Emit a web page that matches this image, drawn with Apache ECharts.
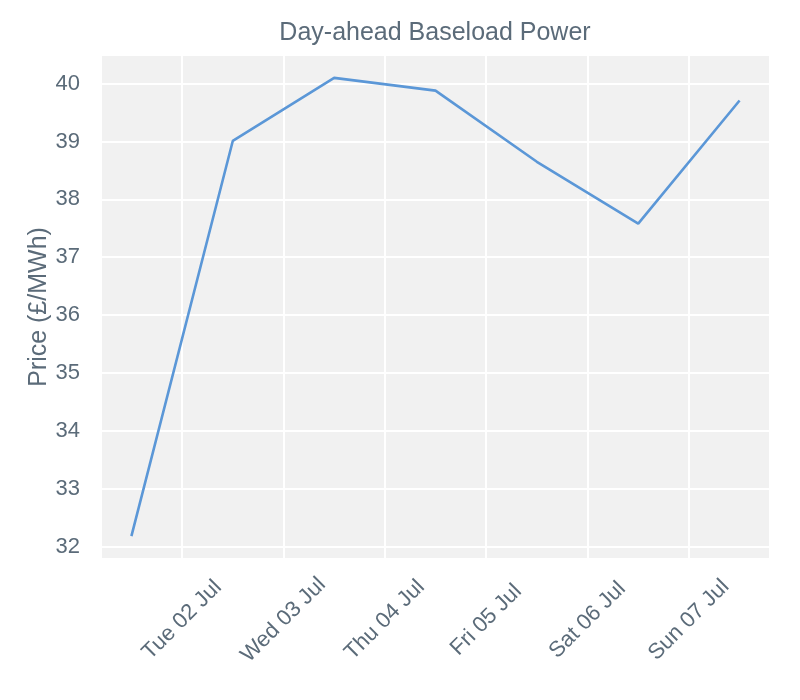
<!DOCTYPE html>
<html><head><meta charset="utf-8">
<script src="https://cdn.jsdelivr.net/npm/echarts@6/dist/echarts.min.js"></script>
<style>html,body{margin:0;padding:0;background:#fff}#c{width:800px;height:700px}</style>
</head><body><div id="c"></div>
<script>
const title = 'Day-ahead Baseload Power';
const yName = 'Price (£/MWh)';
const dates = ['2024-07-01 12:00','2024-07-02 12:00','2024-07-03 12:00','2024-07-04 12:00','2024-07-05 12:00','2024-07-06 12:00','2024-07-07 12:00'];
const prices = [32.18, 39.01, 40.10, 39.88, 38.65, 37.58, 39.71];
const tickDates = ['2024-07-02 00:00','2024-07-03 00:00','2024-07-04 00:00','2024-07-05 00:00','2024-07-06 00:00','2024-07-07 00:00'];
const tickLabels = ['Tue 02 Jul','Wed 03 Jul','Thu 04 Jul','Fri 05 Jul','Sat 06 Jul','Sun 07 Jul'];

function toDays(s){
  const [d,t] = s.split(' ');
  const [Y,M,D] = d.split('-').map(Number);
  const [h,m] = (t||'00:00').split(':').map(Number);
  return (Date.UTC(Y,M-1,D,h,m) - Date.UTC(2024,6,1))/864e5;
}
const xs = dates.map(toDays);
const labelMap = {};
tickDates.forEach((d,i)=>{ labelMap[Math.round(toDays(d)*1000)] = tickLabels[i]; });
const xr = xs[xs.length-1]-xs[0];
const xMin = xs[0]-0.05*xr, xMax = xs[xs.length-1]+0.05*xr;
const yLo = Math.min(...prices), yHi = Math.max(...prices), yr = yHi-yLo;
const yMin = yLo-0.05*yr, yMax = yHi+0.05*yr;

const txt = '#5b6b79';
const font = 'Liberation Sans, Arial, sans-serif';
const chart = echarts.init(document.getElementById('c'), null, {renderer:'canvas'});
chart.setOption({
  animation:false,
  backgroundColor:'#ffffff',
  title:{text:title, left:435, top:21, textAlign:'center', padding:0,
    textStyle:{color:txt, fontSize:25, fontWeight:'normal', fontFamily:font}},
  grid:{left:101, right:30, top:55, bottom:141, show:true, backgroundColor:'#f1f1f1', borderWidth:0, containLabel:false},
  xAxis:{type:'value', min:xMin, max:xMax, splitNumber:7,
    axisLine:{show:false}, axisTick:{show:false},
    splitLine:{show:true, lineStyle:{color:'#ffffff', width:2}},
    axisLabel:{show:true, rotate:45, align:'center', verticalAlign:'middle', margin:61,
      showMinLabel:false, showMaxLabel:false,
      color:txt, fontSize:22, fontFamily:font,
      formatter:v=>labelMap[Math.round(v*1000)]||''}},
  yAxis:{type:'value', min:yMin, max:yMax, splitNumber:9,
    name:yName, nameLocation:'middle', nameGap:49, nameMoveOverlap:false,
    nameTextStyle:{color:txt, fontSize:25, fontFamily:font},
    axisLine:{show:false}, axisTick:{show:false},
    splitLine:{show:true, lineStyle:{color:'#ffffff', width:2}},
    axisLabel:{color:txt, fontSize:22, fontFamily:font, margin:21,
      showMinLabel:false, showMaxLabel:false,
      formatter:v=>{const r=Math.round(v*1000)/1000; return Number.isInteger(r)?String(r):'';}}},
  series:[{type:'line', data:xs.map((x,i)=>[x,prices[i]]), showSymbol:false, symbol:'none',
    lineStyle:{color:'#5b97d7', width:2.6}, itemStyle:{color:'#5b97d7'}}]
});
</script></body></html>
